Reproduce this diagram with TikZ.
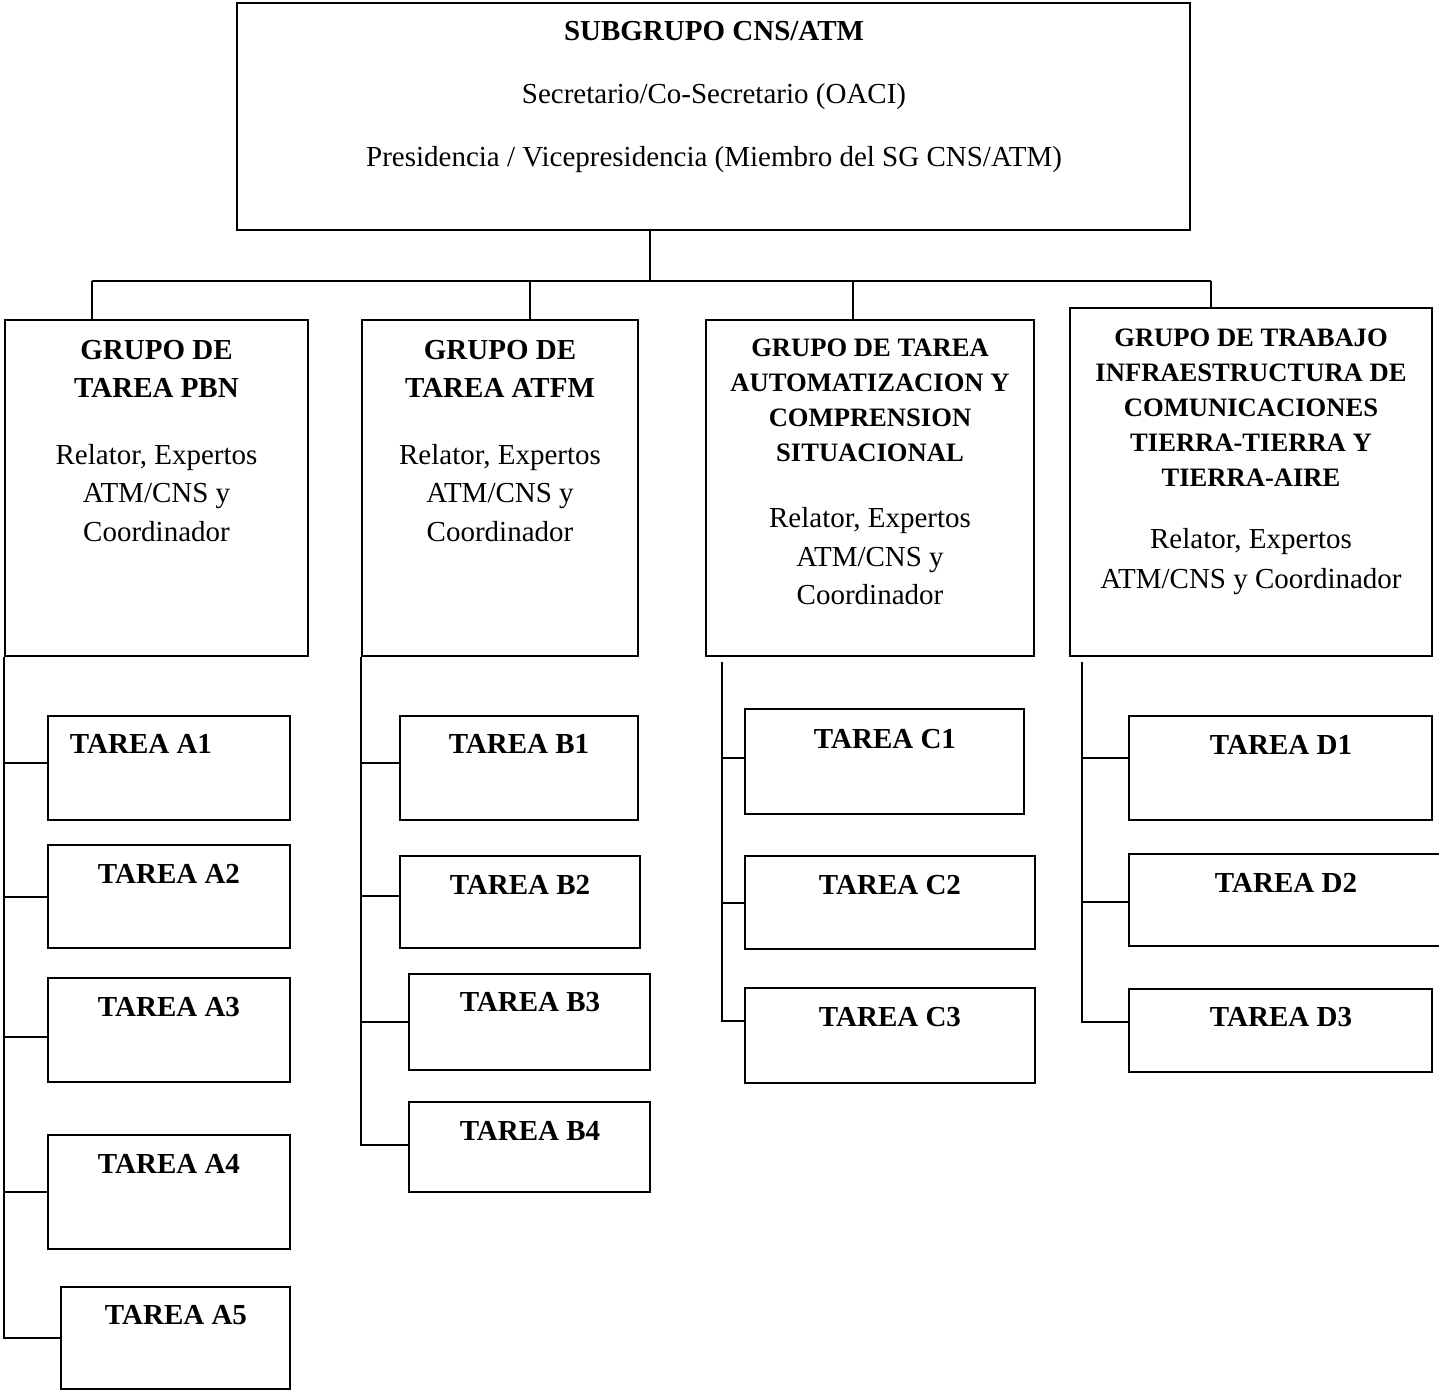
\documentclass[tikz,border=0pt]{standalone}
\usepackage{fontspec}
\setmainfont{Liberation Serif}
\usetikzlibrary{fit}

\tikzset{
  caja/.style={draw, line width=1pt, inner sep=0pt},
  tit/.style={font=\bfseries\fontsize{14.5}{19}\selectfont, align=center, inner sep=0pt},
  titc/.style={font=\bfseries\fontsize{13.3}{17.5}\selectfont, align=center, inner sep=0pt},
  txt/.style={font=\fontsize{14.5}{19.25}\selectfont, align=center, inner sep=0pt},
}

\begin{document}
\begin{tikzpicture}[x=0.5pt,y=-0.5pt,line width=1pt]
  \clip (0,0) rectangle (1439,1391);

  % subgrupo
  \node[caja, fit={(237,3) (1190,230)}] (sg) {};
  \node[tit] (sgt) at (714,31) {SUBGRUPO CNS/ATM};
  \node[txt] (sgs) at (714,97) {Secretario/Co-Secretario (OACI)};
  \node[txt] (sgp) at (714,160) {Presidencia / Vicepresidencia (Miembro del SG CNS/ATM)};

  % grupos
  \node[caja, fit={(5,320) (308,656)}] (ga) {};
  \node[caja, fit={(362,320) (638,656)}] (gb) {};
  \node[caja, fit={(706,320) (1034,656)}] (gc) {};
  \node[caja, fit={(1070,308) (1432,656)}] (gd) {};

  \node[tit] (ha) at (156.5,369) {GRUPO DE\\TAREA PBN};
  \node[txt] (ra) at (156.5,493) {Relator, Expertos\\ATM/CNS y\\Coordinador};
  \node[tit] (hb) at (500,369) {GRUPO DE\\TAREA ATFM};
  \node[txt] (rb) at (500,493) {Relator, Expertos\\ATM/CNS y\\Coordinador};
  \node[titc] (hc) at (870,400.5) {GRUPO DE TAREA\\AUTOMATIZACION Y\\COMPRENSION\\SITUACIONAL};
  \node[txt] (rc) at (870,556.5) {Relator, Expertos\\ATM/CNS y\\Coordinador};
  \node[titc] (hd) at (1251,408) {GRUPO DE TRABAJO\\INFRAESTRUCTURA DE\\COMUNICACIONES\\TIERRA-TIERRA Y\\TIERRA-AIRE};
  \node[txt, font=\fontsize{14.5}{20}\selectfont] (rd) at (1251,561.7) {Relator, Expertos\\ATM/CNS y Coordinador};

  % bus
  \coordinate (hub) at (650,281);
  \coordinate (busa) at (92,281);
  \coordinate (busb) at (530,281);
  \coordinate (busc) at (853,281);
  \coordinate (busd) at (1211,281);
  \draw (sg.south -| hub) -- (hub);
  \draw (busa) -- (busd);
  \foreach \b/\g in {busa/ga,busb/gb,busc/gc,busd/gd}
    \draw (\b) -- (\b |- \g.north);

  % tareas A
  \node[caja, fit={(48,716) (290,820)}] (a1) {};
  \node[caja, fit={(48,845) (290,948)}] (a2) {};
  \node[caja, fit={(48,978) (290,1082)}] (a3) {};
  \node[caja, fit={(48,1135) (290,1249)}] (a4) {};
  \node[caja, fit={(61,1287) (290,1389)}] (a5) {};
  \node[tit] (ta1) at (141,744) {TAREA A1};
  \node[tit] (ta2) at (169,874) {TAREA A2};
  \node[tit] (ta3) at (169,1007) {TAREA A3};
  \node[tit] (ta4) at (169,1163.5) {TAREA A4};
  \node[tit] (ta5) at (176,1315) {TAREA A5};
  \foreach \t/\s in {a1/2.7,a2/0,a3/-3.3,a4/0,a5/0}
    \draw (ga.south west) |- ([yshift=\s pt]\t.west);

  % tareas B
  \node[caja, fit={(400,716) (638,820)}] (b1) {};
  \node[caja, fit={(400,856) (640,948)}] (b2) {};
  \node[caja, fit={(409,974) (650,1070)}] (b3) {};
  \node[caja, fit={(409,1102) (650,1192)}] (b4) {};
  \node[tit] (tb1) at (519,744) {TAREA B1};
  \node[tit] (tb2) at (520,885) {TAREA B2};
  \node[tit] (tb3) at (530,1002.5) {TAREA B3};
  \node[tit] (tb4) at (530,1130.5) {TAREA B4};
  \foreach \t/\s in {b1/2.6,b2/3,b3/0,b4/0.8}
    \draw (gb.south west) |- ([yshift=\s pt]\t.west);

  % tareas C
  \coordinate (ctop) at (722,662);
  \node[caja, fit={(745,709) (1024,814)}] (c1) {};
  \node[caja, fit={(745,856) (1035,949)}] (c2) {};
  \node[caja, fit={(745,988) (1035,1083)}] (c3) {};
  \node[tit] (tc1) at (885,739.3) {TAREA C1};
  \node[tit] (tc2) at (890,885) {TAREA C2};
  \node[tit] (tc3) at (890,1016.7) {TAREA C3};
  \foreach \t/\s in {c1/1.9,c2/0,c3/7.2}
    \draw (ctop) |- ([yshift=\s pt]\t.west);

  % tareas D
  \coordinate (dtop) at (1082,662);
  \node[caja, fit={(1129,716) (1432,820)}] (d1) {};
  \node[caja, fit={(1129,854) (1450,946)}] (d2) {};
  \node[caja, fit={(1129,989) (1432,1072)}] (d3) {};
  \node[tit] (td1) at (1281,745) {TAREA D1};
  \node[tit] (td2) at (1286,883.3) {TAREA D2};
  \node[tit] (td3) at (1281,1016.7) {TAREA D3};
  \foreach \t/\s in {d1/5.2,d2/-1.2,d3/4.4}
    \draw (dtop) |- ([yshift=\s pt]\t.west);
\end{tikzpicture}
\end{document}
